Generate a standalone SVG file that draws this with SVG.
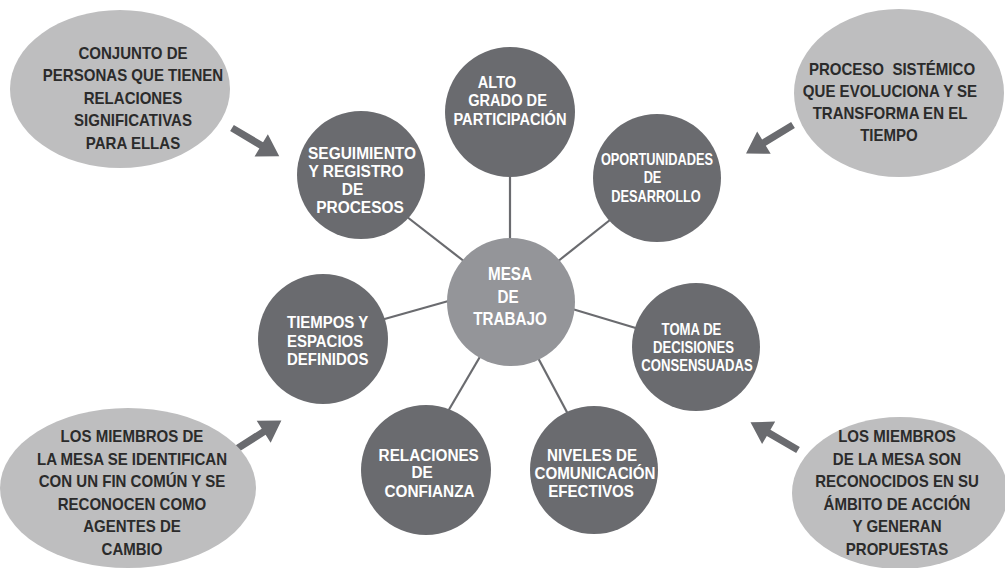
<svg xmlns="http://www.w3.org/2000/svg" width="1005" height="568" viewBox="0 0 1005 568">
<style>
.bg{fill:#ffffff}
.ell{fill:#bebebf}
.dark{fill:#6a6b6f}
.mid{fill:#949599}
.conn{stroke:#6a6b6f;stroke-width:2.2;fill:none}
.arrow{fill:#6a6b6f}
.et{font-family:"Liberation Sans",Arial,sans-serif;font-weight:bold;font-size:16px;fill:#2b2b2b;text-anchor:middle}
.ct{font-family:"Liberation Sans",Arial,sans-serif;font-weight:bold;font-size:17px;fill:#ffffff;text-anchor:middle}
.ct16{font-size:16px}
.ct18{font-size:18px}
</style>
<defs>
<path id="arr" d="M0,-3.6 L34,-3.6 L34,-13 L55,0 L34,13 L34,3.6 L0,3.6 Z"/>
</defs>
<rect class="bg" x="0" y="0" width="1005" height="568"/>

<g id="connectors">
<line class="conn" x1="510" y1="172" x2="510" y2="242"/>
<line class="conn" x1="402" y1="213" x2="465" y2="262"/>
<line class="conn" x1="615" y1="216" x2="557" y2="262"/>
<line class="conn" x1="381" y1="320" x2="452" y2="300"/>
<line class="conn" x1="569" y1="308" x2="639" y2="329"/>
<line class="conn" x1="481" y1="355" x2="447" y2="413"/>
<line class="conn" x1="537" y1="356" x2="569" y2="416"/>
<use href="#arr" class="arrow" transform="translate(232,128) rotate(30.8)"/>
<use href="#arr" class="arrow" transform="translate(793,125) rotate(148.7)"/>
<use href="#arr" class="arrow" transform="translate(235,450) rotate(-32.5)"/>
<use href="#arr" class="arrow" transform="translate(798,450) rotate(210.3)"/>
</g>

<g id="note-tl">
<ellipse class="ell" cx="120" cy="89" rx="110" ry="79"/>
<g transform="translate(133,0) scale(0.94,1)">
<text class="et" x="0" y="59">CONJUNTO DE</text>
<text class="et" x="0" y="81.5">PERSONAS QUE TIENEN</text>
<text class="et" x="0" y="104">RELACIONES</text>
<text class="et" x="0" y="126.5">SIGNIFICATIVAS</text>
<text class="et" x="0" y="149">PARA ELLAS</text>
</g>
</g>

<g id="note-tr">
<ellipse class="ell" cx="899" cy="93" rx="105" ry="84"/>
<g transform="translate(890,0) scale(0.94,1)">
<text class="et" x="2.1" y="75" xml:space="preserve">PROCESO  SISTÉMICO</text>
<text class="et" x="0" y="97">QUE EVOLUCIONA Y SE</text>
<text class="et" x="0" y="119">TRANSFORMA EN EL</text>
<text class="et" x="-1.1" y="141.5">TIEMPO</text>
</g>
</g>

<g id="note-bl">
<ellipse class="ell" cx="128" cy="488" rx="128" ry="80"/>
<g transform="translate(132,0) scale(0.94,1)">
<text class="et" x="0" y="442">LOS MIEMBROS DE</text>
<text class="et" x="0" y="464.6">LA MESA SE IDENTIFICAN</text>
<text class="et" x="0" y="487.2">CON UN FIN COMÚN Y SE</text>
<text class="et" x="0" y="509.8">RECONOCEN COMO</text>
<text class="et" x="0" y="532.4">AGENTES DE</text>
<text class="et" x="0" y="555">CAMBIO</text>
</g>
</g>

<g id="note-br">
<ellipse class="ell" cx="900" cy="493" rx="108" ry="76"/>
<g transform="translate(897,0) scale(0.94,1)">
<text class="et" x="0" y="442">LOS MIEMBROS</text>
<text class="et" x="0" y="464.6">DE LA MESA SON</text>
<text class="et" x="0" y="487.2">RECONOCIDOS EN SU</text>
<text class="et" x="0" y="509.8">ÁMBITO DE ACCIÓN</text>
<text class="et" x="0" y="532.4">Y GENERAN</text>
<text class="et" x="0" y="555">PROPUESTAS</text>
</g>
</g>

<g id="alto-grado">
<circle class="dark" cx="510" cy="112" r="65"/>
<g transform="translate(510,0) scale(0.86,1)">
<text class="ct" x="-15.1" y="88">ALTO</text>
<text class="ct" x="-2.9" y="106.5">GRADO DE</text>
<text class="ct" x="0" y="125">PARTICIPACIÓN</text>
</g>
</g>

<g id="seguimiento">
<circle class="dark" cx="361" cy="175" r="64"/>
<g transform="translate(361,0) scale(0.91,1)">
<text class="ct" x="1.1" y="159">SEGUIMIENTO</text>
<text class="ct" x="-5.5" y="177.5">Y REGISTRO</text>
<text class="ct" x="-9.3" y="195">DE</text>
<text class="ct" x="-1.1" y="213">PROCESOS</text>
</g>
</g>

<g id="oportunidades">
<circle class="dark" cx="657" cy="178" r="64"/>
<g transform="translate(657,0) scale(0.8,1)">
<text class="ct ct16" x="0" y="165">OPORTUNIDADES</text>
<text class="ct ct16" x="-5.6" y="183.3">DE</text>
<text class="ct ct16" x="-1.2" y="201.7">DESARROLLO</text>
</g>
</g>

<g id="mesa">
<circle class="mid" cx="511" cy="302" r="64"/>
<g transform="translate(511,0) scale(0.845,1)">
<text class="ct ct18" x="-1.2" y="280">MESA</text>
<text class="ct ct18" x="-3.6" y="303">DE</text>
<text class="ct ct18" x="-1.2" y="325.5">TRABAJO</text>
</g>
</g>

<g id="tiempos">
<circle class="dark" cx="323" cy="339" r="65"/>
<g transform="translate(323,0) scale(0.88,1)">
<text class="ct" x="-40.9" y="328.3" style="text-anchor:start">TIEMPOS Y</text>
<text class="ct" x="-40.9" y="347" style="text-anchor:start">ESPACIOS</text>
<text class="ct" x="-40.9" y="365.5" style="text-anchor:start">DEFINIDOS</text>
</g>
</g>

<g id="toma">
<circle class="dark" cx="696" cy="347" r="64"/>
<g transform="translate(696,0) scale(0.82,1)">
<text class="ct ct16" x="-5.5" y="334.7">TOMA DE</text>
<text class="ct ct16" x="-3" y="353">DECISIONES</text>
<text class="ct ct16" x="1.2" y="371.3">CONSENSUADAS</text>
</g>
</g>

<g id="relaciones">
<circle class="dark" cx="426" cy="470" r="65"/>
<g transform="translate(426,0) scale(0.9,1)">
<text class="ct" x="3" y="461">RELACIONES</text>
<text class="ct" x="-4.4" y="478.5">DE</text>
<text class="ct" x="3.9" y="496.7">CONFIANZA</text>
</g>
</g>

<g id="niveles">
<circle class="dark" cx="594" cy="470" r="64"/>
<g transform="translate(594,0) scale(0.89,1)">
<text class="ct" x="-2.2" y="461">NIVELES DE</text>
<text class="ct" x="1.1" y="479">COMUNICACIÓN</text>
<text class="ct" x="-3.4" y="496.7">EFECTIVOS</text>
</g>
</g>
</svg>
